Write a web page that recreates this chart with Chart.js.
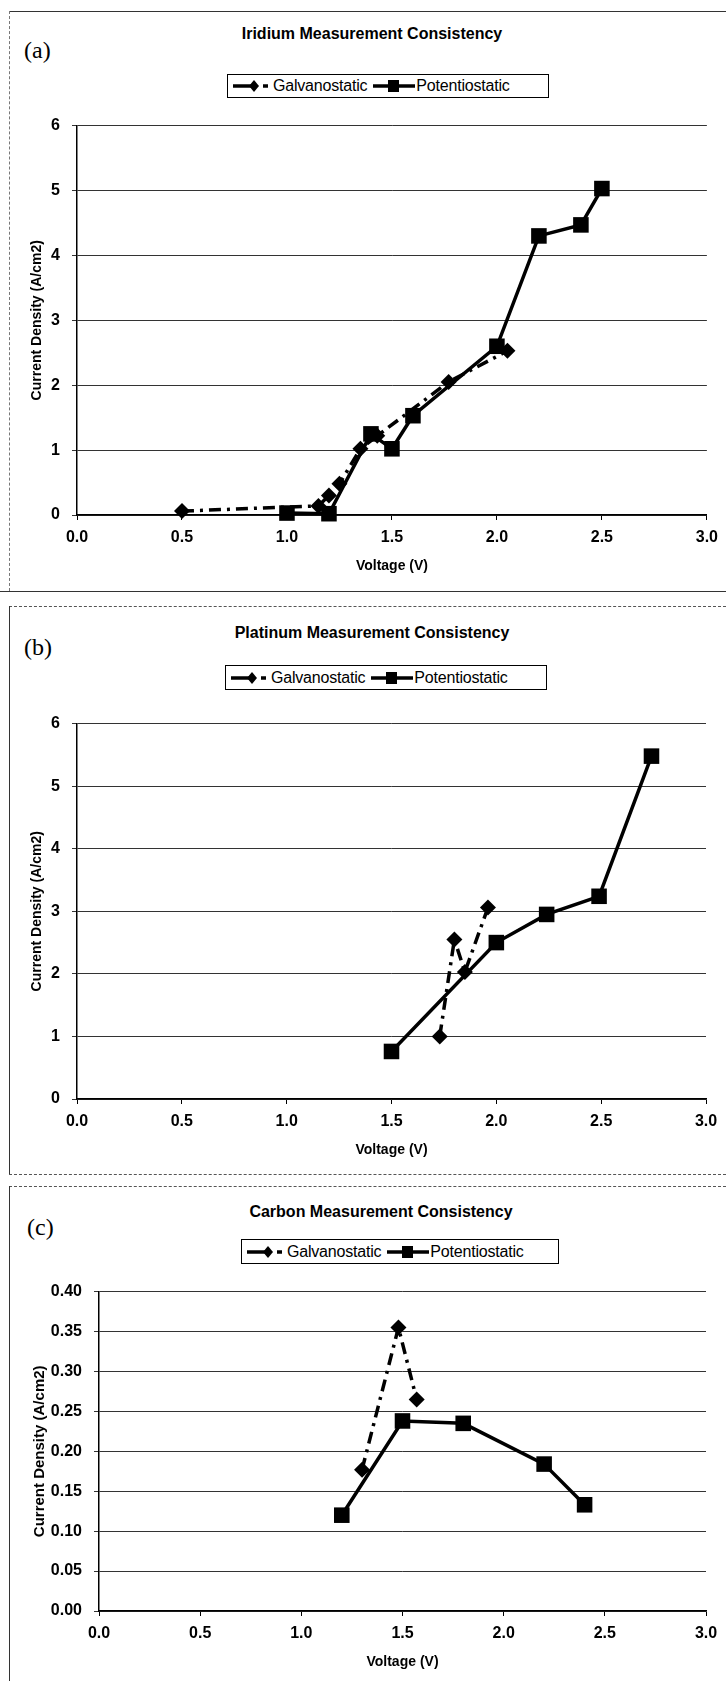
<!DOCTYPE html>
<html>
<head>
<meta charset="utf-8">
<script src="https://cdn.jsdelivr.net/npm/chart.js@4.4.1/dist/chart.umd.min.js"></script>
<style>
  body { margin: 0; background: #fff; }
  #page { position: relative; width: 726px; height: 1681px; overflow: hidden; font-family: "Liberation Sans", Arial, sans-serif; }
  .line { position: absolute; }
  .title { position: absolute; font-weight: bold; font-size: 16px; transform: translateX(-50%); white-space: nowrap; }
  .tag { position: absolute; font-family: "Liberation Serif", "Times New Roman", serif; font-size: 24px; }
  .legend { position: absolute; border: 1px solid #000; background: #fff; display: flex; align-items: center;
            font-size: 16px; white-space: nowrap; padding: 0 2px; box-sizing: border-box; letter-spacing: -0.2px; }
  .legend svg { display: block; }
  canvas { position: absolute; left: 0; }
</style>
</head>
<body>
<div id="page">
  <!-- panel borders -->
  <div class="line" style="left:9px;top:11px;width:717px;border-top:1px solid #333"></div>
  <div class="line" style="left:9px;top:11px;height:580px;border-left:1px dashed #777"></div>
  <div class="line" style="left:0;top:591px;width:726px;border-top:1px solid #333"></div>

  <div class="line" style="left:9px;top:606px;width:717px;border-top:1px dashed #555"></div>
  <div class="line" style="left:9px;top:606px;height:568px;border-left:1px solid #333"></div>
  <div class="line" style="left:9px;top:1174px;width:717px;border-top:1px dashed #555"></div>

  <div class="line" style="left:9px;top:1186px;width:717px;border-top:1px dashed #555"></div>
  <div class="line" style="left:9px;top:1186px;height:495px;border-left:1px solid #333"></div>

  <!-- (a) -->
  <div class="title" style="left:372px;top:25px">Iridium Measurement Consistency</div>
  <div class="tag" style="left:24px;top:37px">(a)</div>
  <div class="legend" style="left:227px;top:74px;width:322px;height:24px" id="legA"></div>
  <canvas id="chartA"></canvas>

  <!-- (b) -->
  <div class="title" style="left:372px;top:624px">Platinum Measurement Consistency</div>
  <div class="tag" style="left:24px;top:634px">(b)</div>
  <div class="legend" style="left:225px;top:665px;width:322px;height:25px" id="legB"></div>
  <canvas id="chartB"></canvas>

  <!-- (c) -->
  <div class="title" style="left:381px;top:1203px">Carbon Measurement Consistency</div>
  <div class="tag" style="left:27px;top:1214px">(c)</div>
  <div class="legend" style="left:241px;top:1239px;width:318px;height:25px" id="legC"></div>
  <canvas id="chartC"></canvas>
</div>

<script>
// ======================
// Data
// ======================
const xTicks = [0.0, 0.5, 1.0, 1.5, 2.0, 2.5, 3.0];

// (a) Iridium
const irGalvV = [0.5, 1.15, 1.2, 1.25, 1.35, 1.43, 1.77, 2.05];
const irGalvJ = [0.06, 0.14, 0.3, 0.48, 1.02, 1.22, 2.05, 2.53];
const irPotV = [1.0, 1.2, 1.4, 1.5, 1.6, 2.0, 2.2, 2.4, 2.5];
const irPotJ = [0.03, 0.02, 1.25, 1.02, 1.53, 2.6, 4.3, 4.47, 5.03];
const irYTicks = [0, 1, 2, 3, 4, 5, 6];

// (b) Platinum
const ptGalvV = [1.73, 1.8, 1.85, 1.96];
const ptGalvJ = [1.0, 2.55, 2.03, 3.06];
const ptPotV = [1.5, 2.0, 2.24, 2.49, 2.74];
const ptPotJ = [0.76, 2.5, 2.95, 3.24, 5.48];
const ptYTicks = [0, 1, 2, 3, 4, 5, 6];

// (c) Carbon
const cGalvV = [1.3, 1.48, 1.57];
const cGalvJ = [0.177, 0.355, 0.265];
const cPotV = [1.2, 1.5, 1.8, 2.2, 2.4];
const cPotJ = [0.12, 0.238, 0.235, 0.184, 0.133];
const cYTicks = [0.0, 0.05, 0.1, 0.15, 0.2, 0.25, 0.3, 0.35, 0.4];

const seriesNames = ["Galvanostatic", "Potentiostatic"];

// ======================
// Legend (html, styled like the old Excel box)
// ======================
function fillLegend(id) {
  const el = document.getElementById(id);
  el.innerHTML =
    '<svg width="42" height="16"><line x1="3" y1="8" x2="22" y2="8" stroke="#000" stroke-width="3.5"/>' +
    '<polygon points="24,2 29,8 24,14 19,8" fill="#000"/>' +
    '<line x1="33" y1="8" x2="38" y2="8" stroke="#000" stroke-width="3.5"/></svg>' +
    '<span style="margin-left:1px">' + seriesNames[0] + '</span>' +
    '<svg width="44" height="16" style="margin-left:5px"><line x1="1" y1="8" x2="43" y2="8" stroke="#000" stroke-width="3.5"/>' +
    '<rect x="16" y="2" width="11" height="12" fill="#000"/></svg>' +
    '<span>' + seriesNames[1] + '</span>';
}
["legA", "legB", "legC"].forEach(fillLegend);

// ======================
// Chart builder
// ======================
const X_AXIS_H = 64;

function toPoints(xs, ys) {
  return xs.map((x, i) => ({ x: x, y: ys[i] }));
}

function makeChart(id, galvV, galvJ, potV, potJ, yTicks, decimals, box) {
  // box: plot area in page pixels
  const canvas = document.getElementById(id);
  const top = box.top - 20;
  const height = box.bottom + X_AXIS_H - top;
  canvas.width = 726;
  canvas.height = height;
  canvas.style.top = top + "px";
  canvas.style.width = "726px";
  canvas.style.height = height + "px";

  const padLeft = box.titleX - 12;
  const tickFont = { family: "Liberation Sans", size: 16, weight: "bold" };
  const yTickFont = { family: "Liberation Sans", size: box.yFont, weight: "bold" };
  const titleFont = { family: "Liberation Sans", size: 14, weight: "bold" };
  const yTitleFont = { family: "Liberation Sans", size: box.yTitle, weight: "bold" };

  return new Chart(canvas.getContext("2d"), {
    type: "line",
    data: {
      datasets: [
        {
          label: seriesNames[0],
          data: toPoints(galvV, galvJ),
          borderColor: "#000",
          backgroundColor: "#000",
          borderWidth: 3.5,
          borderDash: [12, 6, 3, 6],
          pointStyle: "rectRot",
          pointRadius: 8,
          pointBackgroundColor: "#000",
          pointBorderWidth: 0,
          tension: 0,
          clip: false,
        },
        {
          label: seriesNames[1],
          data: toPoints(potV, potJ),
          borderColor: "#000",
          backgroundColor: "#000",
          borderWidth: 3.5,
          pointStyle: "rect",
          pointRadius: 11,
          pointBackgroundColor: "#000",
          pointBorderWidth: 0,
          tension: 0,
          clip: false,
        },
      ],
    },
    options: {
      responsive: false,
      animation: false,
      devicePixelRatio: 1,
      layout: { padding: { left: padLeft, right: 726 - box.right, top: 20, bottom: 0 } },
      plugins: { legend: { display: false }, title: { display: false }, tooltip: { enabled: false } },
      scales: {
        x: {
          type: "linear",
          min: xTicks[0],
          max: xTicks[xTicks.length - 1],
          afterBuildTicks: (s) => { s.ticks = xTicks.map((v) => ({ value: v })); },
          afterFit: (s) => { s.height = X_AXIS_H; },
          ticks: { color: "#000", font: tickFont, padding: 8, maxRotation: 0, callback: (v) => v.toFixed(1) },
          grid: { drawOnChartArea: false, drawTicks: true, tickLength: 5, color: "#000" },
          border: { display: true, color: "#000", width: 1.5 },
          title: { display: true, text: "Voltage (V)", color: "#000", font: titleFont, padding: { top: 4, bottom: 4 } },
        },
        y: {
          min: yTicks[0],
          max: yTicks[yTicks.length - 1],
          afterBuildTicks: (s) => { s.ticks = yTicks.map((v) => ({ value: v })); },
          afterFit: (s) => { s.width = box.left - padLeft; },
          ticks: { color: "#000", font: yTickFont, padding: 12, callback: (v) => v.toFixed(decimals) },
          grid: { color: "#333", lineWidth: 1, tickLength: 5 },
          border: { display: true, color: "#000", width: 1.5 },
          title: { display: true, text: "Current Density (A/cm2)", color: "#000", font: yTitleFont, padding: { top: 4, bottom: 4 } },
        },
      },
    },
  });
}

makeChart("chartA", irGalvV, irGalvJ, irPotV, irPotJ, irYTicks, 0,
  { left: 77, right: 707, top: 124, bottom: 515, titleX: 37, yFont: 16, yTitle: 14 });
makeChart("chartB", ptGalvV, ptGalvJ, ptPotV, ptPotJ, ptYTicks, 0,
  { left: 77, right: 706, top: 722, bottom: 1099, titleX: 37, yFont: 16, yTitle: 14 });
makeChart("chartC", cGalvV, cGalvJ, cPotV, cPotJ, cYTicks, 2,
  { left: 99, right: 706, top: 1290, bottom: 1611, titleX: 39, yFont: 16, yTitle: 15 });
</script>
</body>
</html>
